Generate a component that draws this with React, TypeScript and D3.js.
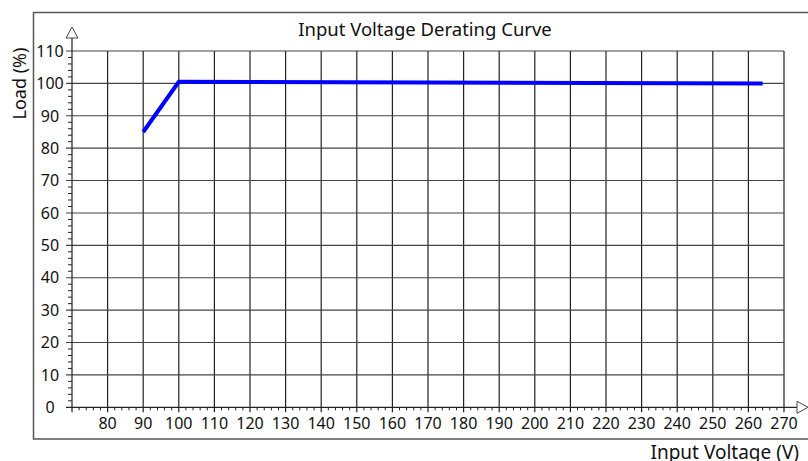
import React from "react";
import * as d3 from "d3";

const voltage = [90, 100, 264];
const load = [85, 100.5, 100];
const xTicks = [80, 90, 100, 110, 120, 130, 140, 150, 160, 170, 180, 190, 200, 210, 220, 230, 240, 250, 260, 270];
const yTicks = [0, 10, 20, 30, 40, 50, 60, 70, 80, 90, 100, 110];
const title = "Input Voltage Derating Curve";
const xLabel = "Input Voltage (V)";
const yLabel = "Load (%)";

export default function App() {
  const W = 808, H = 461;
  const x = d3.scaleLinear().domain([70, 270]).range([72, 784]);
  const y = d3.scaleLinear().domain([0, 110]).range([407.3, 51]);
  const pts = voltage.map((v, i) => [v, load[i]] as [number, number]);
  const line = d3.line<[number, number]>().x(d => x(d[0])).y(d => y(d[1]));
  const xMinor = d3.range(70, 271, 2).filter(v => v % 10 !== 0);
  const yMinor = d3.range(0, 111, 2).filter(v => v % 10 !== 0);
  const font = "'Noto Sans', sans-serif";
  const x0 = x(70), y0 = y(0);
  return (
    <svg width={W} height={H} style={{ position: "absolute", left: 0, top: 0 }}>
      <rect width={W} height={H} fill="#fff" />
      {/* frame */}
      <path d={`M${W + 2},12.5 H33.5 V439 H${W + 2}`} fill="none" stroke="#555" strokeWidth={1.5} />
      {/* grid */}
      {xTicks.map(t => (
        <line key={"gx" + t} x1={x(t)} x2={x(t)} y1={y(110)} y2={y0 + 5} stroke="#222" strokeWidth={1.2} />
      ))}
      {yTicks.filter(t => t > 0).map(t => (
        <line key={"gy" + t} x1={x0 - 6} x2={x(270)} y1={y(t)} y2={y(t)} stroke="#444" strokeWidth={1.1} />
      ))}
      {/* minor ticks */}
      {xMinor.map(t => (
        <line key={"mx" + t} x1={x(t)} x2={x(t)} y1={y0} y2={y0 + 3} stroke="#222" strokeWidth={1} />
      ))}
      {yMinor.map(t => (
        <line key={"my" + t} x1={x0 - 4} x2={x0} y1={y(t)} y2={y(t)} stroke="#222" strokeWidth={1} />
      ))}
      {/* axes */}
      <line x1={x0} x2={x0} y1={y0 + 5} y2={38} stroke="#222" strokeWidth={1.2} />
      <line x1={x0 - 6} x2={798} y1={y0} y2={y0} stroke="#222" strokeWidth={1.2} />
      <path d={`M${x0},27 L${x0 - 6},38 L${x0 + 6},38 Z`} fill="#fff" stroke="#444" strokeWidth={1} />
      <path d={`M808,${y0} L797,${y0 - 6} L797,${y0 + 6} Z`} fill="#fff" stroke="#444" strokeWidth={1} />
      {/* tick labels */}
      {yTicks.map(t => (
        <text key={"ly" + t} x={50} y={y(t)} dy="0.36em" textAnchor="middle" fontFamily={font} fontSize={16} fill="#111">{t}</text>
      ))}
      {xTicks.map(t => (
        <text key={"lx" + t} x={x(t)} y={428.5} textAnchor="middle" fontFamily={font} fontSize={16} fill="#111">{t}</text>
      ))}
      {/* data */}
      <path d={line(pts) || ""} fill="none" stroke="#0000ff" strokeWidth={4} strokeLinejoin="round" />
      {/* titles */}
      <text x={425} y={36} textAnchor="middle" fontFamily={font} fontSize={18.5} fill="#111">{title}</text>
      <text x={799} y={459} textAnchor="end" fontFamily={font} fontSize={19} fill="#111">{xLabel}</text>
      <text transform="translate(25.5,83.5) rotate(-90)" textAnchor="middle" fontFamily={font} fontSize={18} fill="#111">{yLabel}</text>
    </svg>
  );
}
